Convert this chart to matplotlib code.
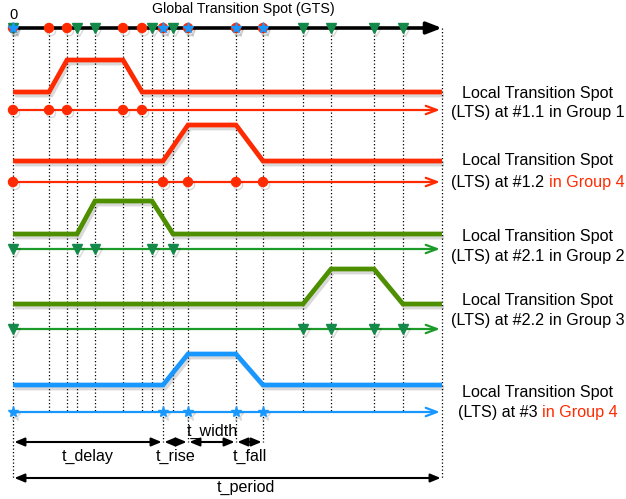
#! /usr/bin/env python3
"""
Timing diagram: global transition spot (GTS) vs local transition spots (LTS).
Coordinates are in picture pixels (x to the right, y downward).
"""
import matplotlib
matplotlib.use('Agg')
import matplotlib.pyplot as plt
import matplotlib.patheffects as pe

plt.rcParams['font.family'] = ['Liberation Sans', 'DejaVu Sans']

RED = '#ff2a00'
GREEN_SIG = '#4e8f00'
GREEN_ROW = '#1c9a2a'
GREEN_MK = '#138a4a'
BLUE = '#1898ff'

# time spots on the global axis
x_start = 13
x_end = 442
red_spots = [13, 49, 67, 123, 142, 163, 188, 236, 263]
green_spots = [13, 77, 95, 152, 173, 303, 331, 374, 403]
blue_spots = [13, 163, 188, 236, 263]

# local signals: (rise start, rise end, fall start, fall end)
sig_names = ['#1.1', '#1.2', '#2.1', '#2.2', '#3']
sig_groups = ['Group 1', 'Group 4', 'Group 2', 'Group 3', 'Group 4']
sig_edges = [(49, 67, 123, 142),
             (163, 188, 236, 263),
             (77, 95, 152, 173),
             (303, 331, 374, 403),
             (163, 188, 236, 263)]
sig_low = [92, 161, 234, 304, 385]
sig_high = [60, 125, 201, 269, 354]
row_y = [110, 182, 249, 329, 412]
sig_colors = [RED, RED, GREEN_SIG, GREEN_SIG, BLUE]
row_colors = [RED, RED, GREEN_ROW, GREEN_ROW, BLUE]
mk_colors = [RED, RED, GREEN_MK, GREEN_MK, BLUE]
mk_shapes = ['o', 'o', 'v', 'v', '*']
label_y1 = [93, 161, 236, 300, 392]
label_y2 = [112, 182, 256, 320, 412]
red_group = [False, True, False, False, True]

# dimension annotations
dim_names = ['t_delay', 't_rise', 't_width', 't_fall']
dim_from = [13, 163, 188, 236]
dim_to = [163, 188, 236, 263]

shadow = [pe.SimpleLineShadow(offset=(1.5, -2.2), shadow_color='k', alpha=0.15),
          pe.Normal()]
dots = (0, (1, 1.8))

fig = plt.figure(figsize=(6.26, 4.99), dpi=100)
ax = fig.add_axes([0, 0, 1, 1])
ax.set_xlim(0, 626)
ax.set_ylim(499, 0)
ax.axis('off')

# vertical dotted guides
all_spots = sorted(set(red_spots + green_spots + blue_spots))
for x in all_spots:
    bottom = 412
    if x == x_start:
        bottom = 478
    elif x in dim_to:
        bottom = 442
    ax.plot([x, x], [28, bottom], color='k', lw=0.9, ls=dots, zorder=1)
ax.plot([x_end, x_end], [28, 478], color='k', lw=0.9, ls=dots, zorder=1)

# global axis
ax.annotate('', xy=(x_end, 28), xytext=(x_start, 28),
            arrowprops=dict(arrowstyle='-|>,head_length=0.9,head_width=0.35',
                            color='k', lw=2.6, shrinkA=0, shrinkB=0),
            zorder=3)
ax.plot(red_spots, [28] * len(red_spots), 'o', color=RED, ms=6.5,
        ls='none', zorder=4, path_effects=shadow)
ax.plot(green_spots, [28] * len(green_spots), 'v', color=GREEN_MK, ms=6.5,
        ls='none', zorder=5, path_effects=shadow)
ax.plot(blue_spots, [28] * len(blue_spots), '*', color=BLUE, ms=8,
        ls='none', zorder=6, path_effects=shadow)
ax.text(x_start, 15, '0', fontsize=10.5, ha='center', va='center')
ax.text(243, 9, 'Global Transition Spot (GTS)', fontsize=10.2,
        ha='center', va='center')

# local signals
for i in range(len(sig_names)):
    r0, r1, f0, f1 = sig_edges[i]
    lo, hi = sig_low[i], sig_high[i]
    ax.plot([x_start, r0, r1, f0, f1, x_end], [lo, lo, hi, hi, lo, lo],
            color=sig_colors[i], lw=3.4, solid_joinstyle='miter',
            solid_capstyle='butt', zorder=3, path_effects=shadow)
    y = row_y[i]
    ax.annotate('', xy=(x_end - 2, y), xytext=(x_start, y),
                arrowprops=dict(arrowstyle='->,head_length=0.8,head_width=0.3',
                                color=row_colors[i], lw=1.6,
                                shrinkA=0, shrinkB=0),
                zorder=3)
    mx = [x_start, r0, r1, f0, f1]
    ax.plot(mx, [y] * len(mx), mk_shapes[i], color=mk_colors[i],
            ms=8 if mk_shapes[i] == '*' else 6.5, ls='none', zorder=4,
            path_effects=shadow)

# right-hand labels
fig.canvas.draw()
renderer = fig.canvas.get_renderer()
cx = 538
for i in range(len(sig_names)):
    ax.text(cx, label_y1[i], 'Local Transition Spot', fontsize=11.6,
            ha='center', va='center')
    part1 = '(LTS) at %s ' % sig_names[i]
    part2 = 'in %s' % sig_groups[i]
    t1 = ax.text(0, label_y2[i], part1, fontsize=11.6, ha='left',
                 va='center')
    t2 = ax.text(0, label_y2[i], part2, fontsize=11.6, ha='left',
                 va='center', color=RED if red_group[i] else 'k')
    w1 = t1.get_window_extent(renderer).width
    w2 = t2.get_window_extent(renderer).width
    left = cx - (w1 + w2) / 2
    t1.set_x(left)
    t2.set_x(left + w1)

# dimension arrows
dim_style = '<|-|>,head_length=0.6,head_width=0.25'
for i in range(len(dim_names)):
    ax.annotate('', xy=(dim_to[i], 442), xytext=(dim_from[i], 442),
                arrowprops=dict(arrowstyle=dim_style, color='k', lw=1.5,
                                shrinkA=1, shrinkB=1))
    ty = 431 if dim_names[i] == 't_width' else 456
    ax.text((dim_from[i] + dim_to[i]) / 2, ty, dim_names[i], fontsize=11.6,
            ha='center', va='center')
ax.annotate('', xy=(x_end, 478), xytext=(x_start, 478),
            arrowprops=dict(arrowstyle=dim_style, color='k', lw=1.5,
                            shrinkA=1, shrinkB=1))
ax.text(246, 487, 't_period', fontsize=11.6, ha='center', va='center')

fig.savefig('out.png', dpi=100)
